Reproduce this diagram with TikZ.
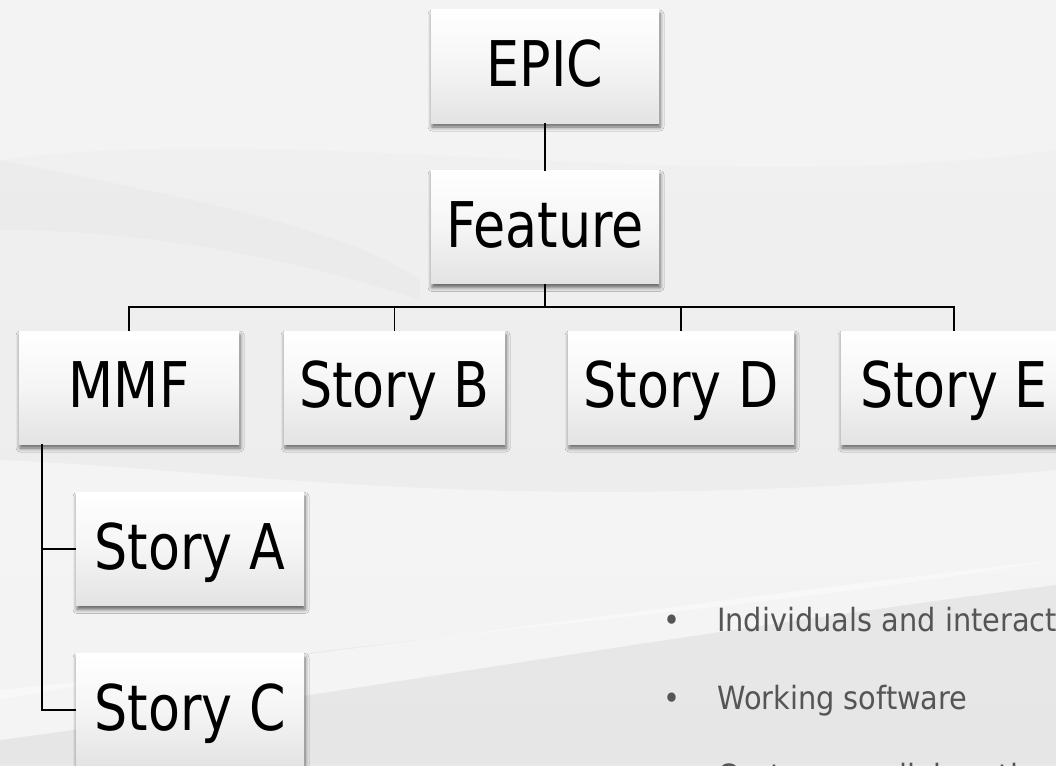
\documentclass[tikz,border=0pt]{standalone}
\usepackage{fontspec}
\setmainfont{DejaVu Sans}
\newfontfamily\boxfont[FakeStretch=0.83]{DejaVu Sans}
\newfontfamily\listfont[FakeStretch=0.90]{DejaVu Sans}
\usetikzlibrary{shadows.blur}
\definecolor{bgtop}{HTML}{F1F1F1}
\definecolor{bgbot}{HTML}{EBEBEB}
\definecolor{boxbot}{HTML}{E3E3E3}
\definecolor{listgray}{HTML}{555555}
\tikzset{
  storybox/.style={rectangle, inner sep=0pt, outer sep=0pt,
    minimum height=113pt, minimum width=224pt,
    top color=white, bottom color=boxbot, middle color=white!96!black,
    font=\boxfont\fontsize{63}{70}\selectfont, text=black,
    text height=46pt, text depth=6pt,
    blur shadow={shadow xshift=1pt, shadow yshift=-4pt, shadow blur radius=4pt, shadow opacity=60}},
  link/.style={draw=black, line width=1.8pt},
  listtext/.style={font=\listfont\fontsize{32}{36}\selectfont, text=listgray, inner sep=0pt, anchor=base west},
  listdot/.style={font=\listfont\fontsize{32}{36}\selectfont, text=listgray, inner sep=0pt, anchor=base}
}
\begin{document}
\begin{tikzpicture}[x=1pt,y=-1pt]
\useasboundingbox (0,0) rectangle (1056,765);
\clip (0,0) rectangle (1056,765);
% background
\shade[top color=bgtop, bottom color=bgbot] (0,0) rectangle (1056,765);
\fill[white, opacity=0.2] (0,160) .. controls (300,120) and (700,200) .. (1056,150) -- (1056,0) -- (0,0) -- cycle;
\fill[black, opacity=0.015] (0,160) .. controls (200,200) and (350,230) .. (420,280) -- (420,300) .. controls (300,260) and (150,230) .. (0,230) -- cycle;
\fill[white, opacity=0.4] (0,460) .. controls (250,470) and (500,520) .. (1056,470) -- (1056,560) .. controls (700,620) and (300,640) .. (0,700) -- cycle;
\fill[white, opacity=0.45] (0,690) .. controls (300,660) and (700,600) .. (1056,560) -- (1056,585) .. controls (700,630) and (300,700) .. (0,740) -- cycle;
\fill[black, opacity=0.02] (0,740) .. controls (300,700) and (700,630) .. (1056,585) -- (1056,765) -- (0,765) -- cycle;

% boxes
\node[storybox, minimum width=228pt] (epic) at (545,66.5) {EPIC};
\node[storybox, minimum width=228pt] (feature) at (545,227) {Feature};
\node[storybox, minimum width=220pt] (mmf) at (129,387.5) {MMF};
\node[storybox, minimum width=221pt] (sb) at (394.5,387.5) {Story B};
\node[storybox, minimum width=226pt] (sd) at (681,387.5) {Story D};
\node[storybox, minimum width=226pt] (se) at (954,387.5) {Story E};
\node[storybox, minimum width=228pt] (sa) at (190,549) {Story A};
\node[storybox, minimum width=228pt] (sc) at (190,710) {Story C};

% connectors
\coordinate (bus) at (0,307);
\coordinate (trunk) at (42,0);
\draw[link] (epic.south) -- (feature.north);
\draw[link] (feature.south) -- (feature.south |- bus);
\draw[link] (mmf.north) -- (mmf.north |- bus) -| (se.north);
\draw[link] (sb.north) -- (sb.north |- bus);
\draw[link] (sd.north) -- (sd.north |- bus);
\draw[link] (trunk |- mmf.south) |- (sc.west);
\draw[link] (trunk |- sa.west) -- (sa.west);

% bullet list
\node[listdot] (b1) at (672,631) {•};
\node[listtext] (t1) at (717,631) {Individuals and interactions};
\node[listdot] (b2) at (672,709) {•};
\node[listtext] (t2) at (717,709) {Working software};
\node[listdot] (b3) at (672,787) {•};
\node[listtext] (t3) at (717,787) {Customer collaboration};
\end{tikzpicture}
\end{document}
